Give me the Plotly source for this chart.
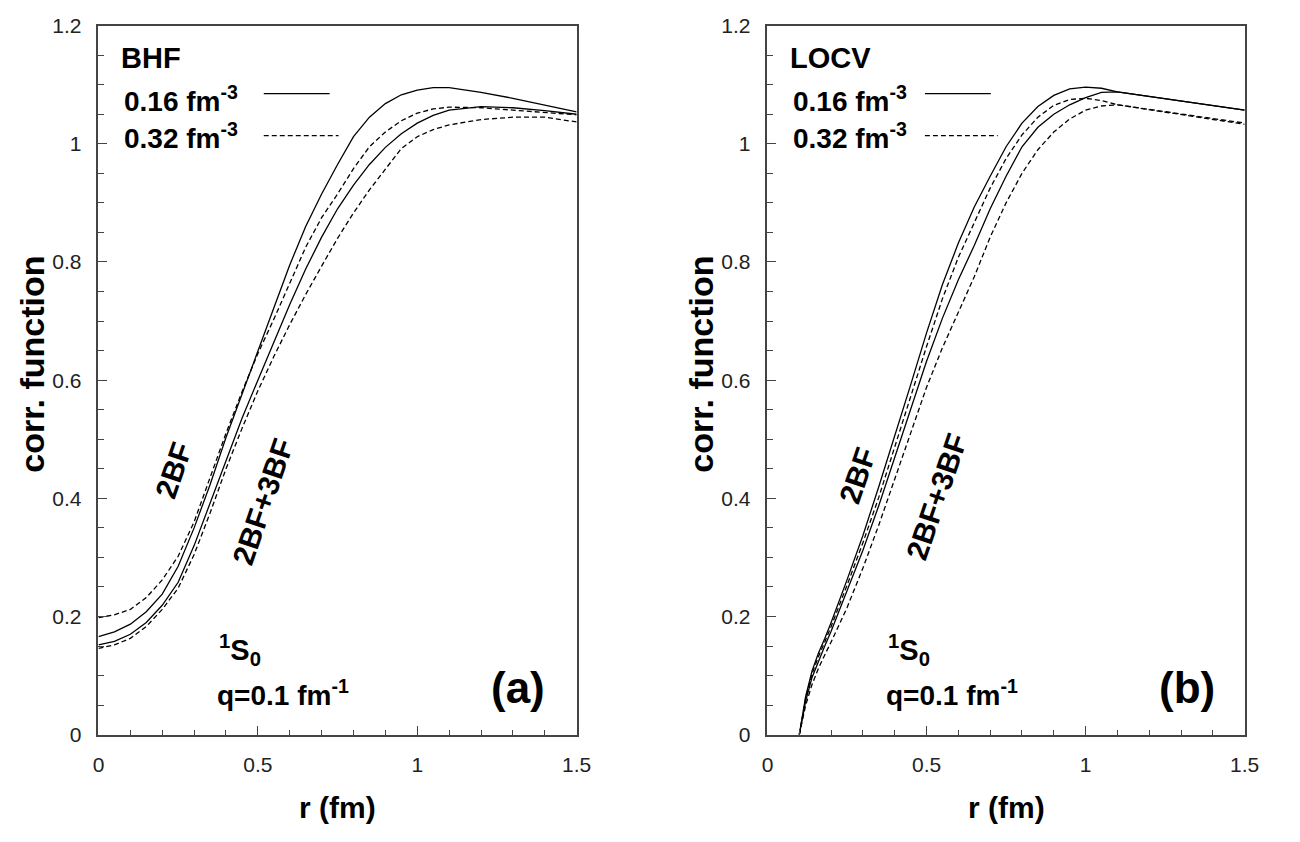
import plotly.graph_objects as go

# ---------------- data ----------------
# BHF panel: radial grid (fm) and correlation functions
r_bhf = [0.00, 0.05, 0.10, 0.15, 0.20, 0.25, 0.30, 0.35, 0.40, 0.45, 0.50,
         0.55, 0.60, 0.65, 0.70, 0.75, 0.80, 0.85, 0.90, 0.95, 1.00, 1.05,
         1.10, 1.20, 1.30, 1.40, 1.50]
bhf_2bf_016 = [0.166, 0.174, 0.187, 0.208, 0.238, 0.285, 0.350, 0.423, 0.503, 0.575, 0.648,
               0.722, 0.795, 0.860, 0.915, 0.965, 1.012, 1.045, 1.068, 1.083, 1.091, 1.095,
               1.095, 1.087, 1.077, 1.065, 1.054]
bhf_2bf_032 = [0.198, 0.203, 0.212, 0.232, 0.262, 0.302, 0.360, 0.435, 0.510, 0.580, 0.645,
               0.703, 0.765, 0.825, 0.875, 0.915, 0.958, 0.995, 1.020, 1.039, 1.052, 1.059,
               1.062, 1.061, 1.057, 1.053, 1.049]
bhf_3bf_016 = [0.152, 0.158, 0.170, 0.190, 0.219, 0.258, 0.320, 0.392, 0.465, 0.535, 0.600,
               0.665, 0.728, 0.788, 0.842, 0.890, 0.930, 0.965, 0.994, 1.017, 1.035, 1.048,
               1.057, 1.063, 1.061, 1.056, 1.050]
bhf_3bf_032 = [0.146, 0.152, 0.163, 0.183, 0.212, 0.248, 0.305, 0.375, 0.450, 0.518, 0.582,
               0.640, 0.694, 0.745, 0.793, 0.840, 0.883, 0.922, 0.957, 0.992, 1.012, 1.024,
               1.032, 1.041, 1.045, 1.045, 1.037]

# LOCV panel
r_locv = [0.10, 0.11, 0.12, 0.14, 0.16, 0.18, 0.20, 0.25, 0.30, 0.35, 0.40, 0.45, 0.50,
          0.55, 0.60, 0.65, 0.70, 0.75, 0.80, 0.85, 0.90, 0.95, 1.00, 1.05, 1.10, 1.50]
locv_2bf_016 = [0.000, 0.035, 0.065, 0.108, 0.138, 0.163, 0.190, 0.262, 0.337, 0.420, 0.505,
                0.592, 0.680, 0.762, 0.832, 0.893, 0.945, 0.995, 1.035, 1.063, 1.082, 1.093,
                1.096, 1.094, 1.088, 1.057]
locv_2bf_032 = [0.000, 0.033, 0.062, 0.103, 0.132, 0.157, 0.183, 0.253, 0.325, 0.402, 0.485,
                0.572, 0.657, 0.738, 0.808, 0.868, 0.925, 0.975, 1.015, 1.045, 1.065, 1.075,
                1.077, 1.073, 1.066, 1.035]
locv_3bf_016 = [0.000, 0.030, 0.057, 0.097, 0.125, 0.150, 0.175, 0.243, 0.312, 0.388, 0.470,
                0.552, 0.632, 0.705, 0.770, 0.828, 0.890, 0.945, 0.995, 1.028, 1.050, 1.066,
                1.078, 1.087, 1.088, 1.057]
locv_3bf_032 = [0.000, 0.027, 0.050, 0.085, 0.112, 0.135, 0.157, 0.215, 0.282, 0.355, 0.432,
                0.510, 0.588, 0.655, 0.714, 0.775, 0.842, 0.900, 0.950, 0.990, 1.020, 1.042,
                1.057, 1.064, 1.066, 1.033]

x_ticks = [0, 0.5, 1, 1.5]
x_tick_text = ["0", "0.5", "1", "1.5"]
y_ticks = [0, 0.2, 0.4, 0.6, 0.8, 1.0, 1.2]
y_tick_text = ["0", "0.2", "0.4", "0.6", "0.8", "1", "1.2"]

# ---------------- layout helpers ----------------
W, H = 1300, 842
FONT = "Liberation Sans, Arial, sans-serif"
SOLID = "solid"
DASH = "5px,3px"


def px(xp):
    return xp / W


def py(yp):
    return 1 - yp / H


fig = go.Figure()

line_w = 1.3
series = [
    ("x", "y", r_bhf, bhf_2bf_016, SOLID),
    ("x", "y", r_bhf, bhf_2bf_032, DASH),
    ("x", "y", r_bhf, bhf_3bf_016, SOLID),
    ("x", "y", r_bhf, bhf_3bf_032, DASH),
    ("x2", "y2", r_locv, locv_2bf_016, SOLID),
    ("x2", "y2", r_locv, locv_2bf_032, DASH),
    ("x2", "y2", r_locv, locv_3bf_016, SOLID),
    ("x2", "y2", r_locv, locv_3bf_032, DASH),
]
for xa, ya, xs, ys, dash in series:
    fig.add_trace(go.Scatter(x=xs, y=ys, xaxis=xa, yaxis=ya, mode="lines",
                             line=dict(color="black", width=line_w, dash=dash),
                             showlegend=False, hoverinfo="skip"))

y_dom = [py(743), py(14)]
axis_common = dict(showline=True, linecolor="#444", linewidth=1.6, mirror=True,
                   showgrid=False, zeroline=False, ticks="inside", tickcolor="#444",
                   tickwidth=1.4, tickfont=dict(family=FONT, size=21, color="#222"))

fig.update_layout(
    width=W, height=H,
    margin=dict(l=0, r=0, t=0, b=0),
    paper_bgcolor="white", plot_bgcolor="white",
    xaxis=dict(domain=[px(94), px(580)], range=[0, 1.5], anchor="y",
               tickvals=x_ticks, ticktext=x_tick_text, ticklen=9, ticklabelstandoff=10,
               minor=dict(dtick=0.1, ticks="inside", ticklen=5, tickcolor="#444", tickwidth=1.2),
               **axis_common),
    yaxis=dict(domain=y_dom, range=[0, 1.2], anchor="x",
               tickvals=y_ticks, ticktext=y_tick_text, ticklen=9, ticklabelstandoff=11,
               minor=dict(dtick=0.05, ticks="inside", ticklen=6, tickcolor="#444", tickwidth=1.2),
               **axis_common),
    xaxis2=dict(domain=[px(774), px(1259)], range=[0, 1.5], anchor="y2",
                tickvals=x_ticks, ticktext=x_tick_text, ticklen=9, ticklabelstandoff=10,
                minor=dict(dtick=0.1, ticks="inside", ticklen=5, tickcolor="#444", tickwidth=1.2),
                **axis_common),
    yaxis2=dict(domain=y_dom, range=[0, 1.2], anchor="x2",
                tickvals=y_ticks, ticktext=y_tick_text, ticklen=9, ticklabelstandoff=11,
                minor=dict(dtick=0.05, ticks="inside", ticklen=6, tickcolor="#444", tickwidth=1.2),
                **axis_common),
)

annotations = []


def text(xp, yp, s, size, bold=True, xanchor="left", angle=0):
    t = f"<b>{s}</b>" if bold else s
    annotations.append(dict(x=px(xp), y=py(yp), xref="paper", yref="paper", text=t,
                            showarrow=False, xanchor=xanchor, yanchor="middle",
                            textangle=angle,
                            font=dict(family=FONT, size=size, color="black")))


# panel texts, shifted by the horizontal offset of each panel
for dx, name, tag, ang_pos in [(0, "BHF", "(a)", (170, 471, 261, 503)),
                               (680, "LOCV", "(b)", (866, 477, 946, 498))]:
    text(115 + dx, 47, name, 29)
    text(118 + dx, 89, "0.16 fm<sup>-3</sup>", 28)
    text(118 + dx, 127, "0.32 fm<sup>-3</sup>", 28)
    text(ang_pos[0], ang_pos[1], "2BF", 30, xanchor="center", angle=-71)
    text(ang_pos[2], ang_pos[3], "2BF+3BF", 30, xanchor="center", angle=-71)
    text(214 + dx, 656, "<sup>1</sup>S<sub>0</sub>", 29)
    text(212 + dx, 700, "q=0.1 fm<sup>-1</sup>", 28)
    text(520 + dx, 694, tag, 44, xanchor="center")
    # axis titles
    text(27 + dx, 362, "corr. function", 34, xanchor="center", angle=-90)
    text(337 + dx, 818, "r (fm)", 30, xanchor="center")

fig.update_layout(annotations=annotations)

# density key samples next to the labels
shapes = []
for x0, x1_s, x1_d in [(262, 329, 338), (934, 1001, 1008)]:
    shapes.append(dict(type="line", xref="paper", yref="paper",
                       x0=px(x0), x1=px(x1_s), y0=py(84), y1=py(84),
                       line=dict(color="black", width=line_w)))
    shapes.append(dict(type="line", xref="paper", yref="paper",
                       x0=px(x0), x1=px(x1_d), y0=py(127), y1=py(127),
                       line=dict(color="black", width=line_w, dash=DASH)))
fig.update_layout(shapes=shapes)

fig.write_html("out.html")
